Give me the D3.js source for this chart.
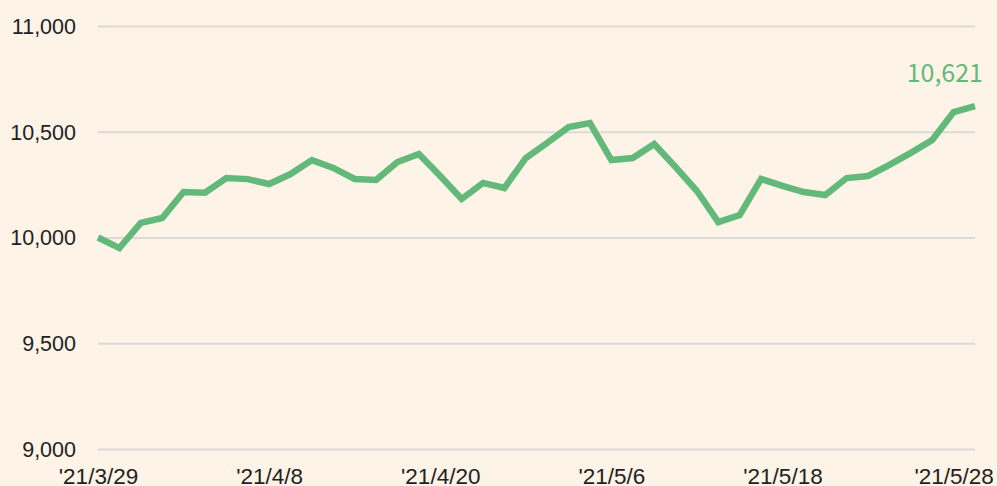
<!DOCTYPE html>
<html>
<head>
<meta charset="utf-8">
<script src="https://cdn.jsdelivr.net/npm/d3@7"></script>
<style>
  html, body { margin: 0; padding: 0; background: #fdf3e7; }
  svg { display: block; font-family: "Noto Sans CJK JP", "Noto Sans", sans-serif; }
</style>
</head>
<body>
<div id="chart"></div>
<script>
// trading days, 3/29 - 5/31
const dates = [
  '3/29', '3/30', '3/31', '4/1', '4/2', '4/5', '4/6', '4/7', '4/8', '4/9',
  '4/12', '4/13', '4/14', '4/15', '4/16', '4/19', '4/20', '4/21', '4/22', '4/23',
  '4/26', '4/27', '4/28', '4/30', '5/6', '5/7', '5/10', '5/11', '5/12', '5/13',
  '5/14', '5/17', '5/18', '5/19', '5/20', '5/21', '5/24', '5/25', '5/26', '5/27',
  '5/28', '5/31',
];
const values = [
  10000, 9950, 10069, 10092, 10215, 10212, 10281, 10276, 10253, 10300,
  10366, 10329, 10277, 10272, 10357, 10395, 10291, 10182, 10258, 10234,
  10376, 10447, 10522, 10541, 10366, 10376, 10442, 10333, 10220, 10073,
  10106, 10277, 10244, 10215, 10201, 10281, 10291, 10343, 10400, 10461,
  10593, 10621,
];
const xTicks = ['3/29', '4/8', '4/20', '5/6', '5/18', '5/28'];
const yTicks = [9000, 9500, 10000, 10500, 11000];

const width = 997;
const height = 486;
const margin = { top: 26, right: 22, bottom: 37, left: 98 };

const svg = d3.select('#chart').append('svg')
  .attr('width', width)
  .attr('height', height);

const x = d3.scalePoint()
  .domain(dates)
  .range([margin.left, width - margin.right]);

const y = d3.scaleLinear()
  .domain([9000, 11000])
  .range([height - margin.bottom, margin.top]);

// grid + y labels
const yAxis = d3.axisLeft(y)
  .tickValues(yTicks)
  .tickSize(-(width - margin.left - margin.right))
  .tickPadding(22)
  .tickFormat(d3.format(','));

svg.append('g')
  .attr('transform', 'translate(' + margin.left + ',0)')
  .call(yAxis)
  .call((g) => g.select('.domain').remove())
  .call((g) => g.selectAll('.tick line').attr('stroke', '#dcdad6').attr('stroke-width', 2))
  .call((g) => g.selectAll('.tick text')
    .attr('fill', '#222')
    .attr('font-size', 21.5)
    .attr('dy', '0.34em'));

// x labels
const xAxis = d3.axisBottom(x)
  .tickValues(xTicks)
  .tickSize(0)
  .tickPadding(0)
  .tickFormat((d) => '\'21/' + d);

svg.append('g')
  .attr('transform', 'translate(0,' + (height - margin.bottom) + ')')
  .call(xAxis)
  .call((g) => g.select('.domain').remove())
  .call((g) => g.selectAll('.tick text')
    .attr('fill', '#222')
    .attr('font-size', 22.5)
    .attr('y', 35)
    .attr('dy', 0));

// line
const line = d3.line()
  .x((d, i) => x(dates[i]))
  .y((d) => y(d));

svg.append('path')
  .datum(values)
  .attr('fill', 'none')
  .attr('stroke', '#63b97a')
  .attr('stroke-width', 6.5)
  .attr('stroke-linejoin', 'miter')
  .attr('d', line);

// last value label
const last = values.length - 1;
svg.append('text')
  .attr('x', x(dates[last]) + 8)
  .attr('y', y(values[last]) - 24)
  .attr('text-anchor', 'end')
  .attr('fill', '#63b97a')
  .attr('font-size', 25)
  .text(d3.format(',')(values[last]));
</script>
</body>
</html>
